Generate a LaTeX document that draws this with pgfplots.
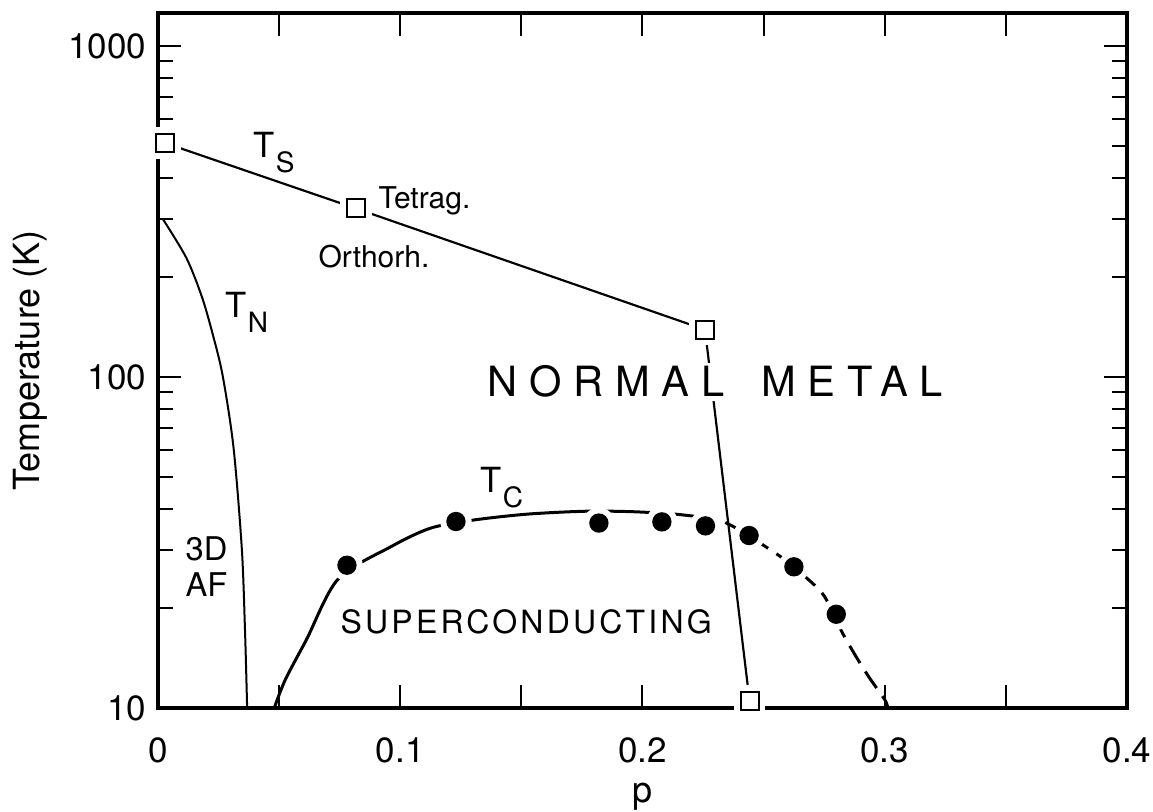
\documentclass[border=0pt]{standalone}
\usepackage{pgfplots}
\pgfplotsset{compat=1.18}
\usepackage{fontspec}
\setmainfont{TeX Gyre Heros}
% transition temperature symbol with a dropped subscript
\newcommand{\Tsub}[1]{T\kern0.3pt\raisebox{-4.5pt}{\fontsize{8.4}{10}\selectfont #1}}

\begin{document}
\begin{tikzpicture}
\begin{axis}[
  name=ax,
  scale only axis, width=290.7pt, height=208.5pt,
  xmin=0, xmax=0.4, ymin=10, ymax=1258, ymode=log,
  clip=false,
  xtick={0,0.05,0.1,0.15,0.2,0.25,0.3,0.35,0.4},
  xticklabels={0,{},0.1,{},0.2,{},0.3,{},0.4},
  ytick={10,100,1000}, yticklabels={10,100,1000},
  minor ytick={20,30,40,50,60,70,80,90,200,300,400,500,600,700,800,900},
  major tick length=7pt, minor tick length=4.5pt,
  tick style={black, line width=0.6pt},
  axis line style={line width=1.1pt},
  tick label style={font=\fontsize{10.5}{12}\selectfont},
  xticklabel style={yshift=-5.3pt},
  xlabel={p}, ylabel={Temperature (K)},
  label style={font=\fontsize{10.8}{13}\selectfont},
  xlabel style={at={(axis description cs:0.5,-0.128)}, anchor=center},
  ylabel style={at={(axis description cs:-0.1321,0.5)}, anchor=center},
]
% structural transition T_S
\addplot[line width=0.65pt] coordinates {(0.003,509) (0.0817,323) (0.2258,139) (0.2442,10.5)};
% Neel temperature T_N
\addplot[line width=0.6pt, smooth] coordinates {
  (0.002,300) (0.0117,229) (0.0182,174) (0.0229,132) (0.0268,100)
  (0.0312,61) (0.0346,30.3) (0.0359,17.3) (0.0368,10)};
% superconducting dome T_C, solid part
\addplot[line width=0.9pt, smooth] coordinates {
  (0.048,10) (0.0526,12.2) (0.0613,16.1) (0.0743,24.5) (0.0961,30.7)
  (0.1123,34.9) (0.1294,36.9) (0.152,38.5) (0.176,39.3) (0.195,39.2)
  (0.212,38.6) (0.2221,37.9)};
% T_C, dashed part
\addplot[line width=0.9pt, smooth, dash pattern=on 6pt off 3pt] coordinates {
  (0.2221,37.9) (0.2317,36.9) (0.2388,34.9) (0.25,31.0) (0.2583,28.2)
  (0.2667,25.1) (0.275,21.8) (0.2821,17.1) (0.2879,14.4) (0.2938,12.3)
  (0.3,10.6) (0.3013,10)};
% open squares (with a white margin around each)
\addplot[only marks, mark=square*, mark size=4.5pt, mark options={fill=white, draw=white}]
  coordinates {(0.003,509) (0.0817,323) (0.2258,139) (0.2442,10.5)};
\addplot[only marks, mark=square*, mark size=2.7pt, mark options={fill=white, draw=black, line width=0.6pt}]
  coordinates {(0.003,509) (0.0817,323) (0.2258,139) (0.2442,10.5)};
% filled circles on the dome
\addplot[only marks, mark=*, mark size=4.5pt, mark options={fill=white, draw=white}]
  coordinates {(0.078,27) (0.123,36.6) (0.182,36.2) (0.208,36.5) (0.226,35.5) (0.244,33.2) (0.2625,26.7) (0.28,19.2)};
\addplot[only marks, mark=*, mark size=2.7pt, mark options={fill=black, draw=black}]
  coordinates {(0.078,27) (0.123,36.6) (0.182,36.2) (0.208,36.5) (0.226,35.5) (0.244,33.2) (0.2625,26.7) (0.28,19.2)};

% region and curve labels
\node[anchor=base west, inner sep=0pt, font=\fontsize{10.4}{12}\selectfont] at (rel axis cs:0.0980,0.7914) {\Tsub{S}};
\node[anchor=base west, inner sep=0pt, font=\fontsize{10.4}{12}\selectfont] at (rel axis cs:0.0691,0.5612) {\Tsub{N}};
\node[anchor=base west, inner sep=0pt, font=\fontsize{10.4}{12}\selectfont] at (rel axis cs:0.3323,0.3094) {\Tsub{C}};
\node[anchor=base west, inner sep=0pt, font=\fontsize{9}{11}\selectfont] at (rel axis cs:0.2270,0.7194) {Tetrag.};
\node[anchor=base west, inner sep=0pt, font=\fontsize{9}{11}\selectfont] at (rel axis cs:0.1651,0.6345) {Orthorh.};
\node[anchor=base west, inner sep=0pt, font=\fontsize{9.8}{12}\selectfont] at (rel axis cs:0.0279,0.2129) {3D};
\node[anchor=base west, inner sep=0pt, font=\fontsize{9.8}{12}\selectfont] at (rel axis cs:0.0279,0.1597) {AF};
\node[anchor=base west, inner sep=1pt, fill=white, font=\fontsize{12.5}{14}\selectfont\addfontfeature{LetterSpace=28}]
  at (rel axis cs:0.3364,0.4475) {NORMAL\hspace{11pt}METAL};
\node[anchor=base west, inner sep=0pt, font=\fontsize{9.6}{12}\selectfont\addfontfeature{LetterSpace=10}]
  at (rel axis cs:0.1878,0.1079) {SUPERCONDUCTING};
\end{axis}
\pgfresetboundingbox
\path ([shift={(-47.4pt,-31.2pt)}]ax.south west) rectangle ([shift={(7.8pt,3.9pt)}]ax.north east);
\end{tikzpicture}
\end{document}
